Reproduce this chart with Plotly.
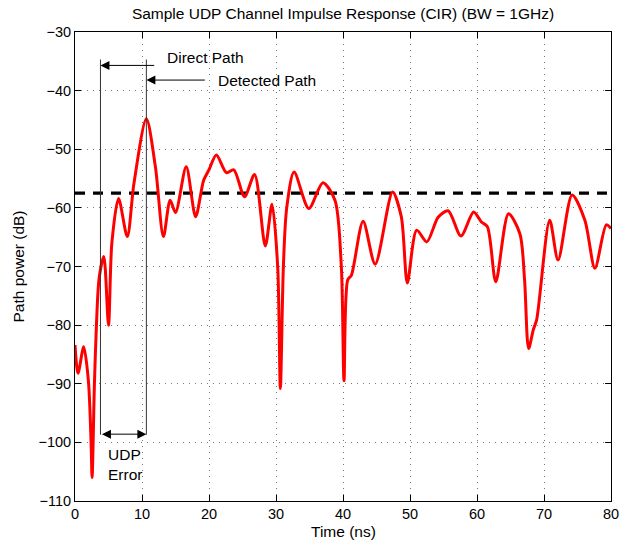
import plotly.graph_objects as go

# ---- data ----
time_ns = [0.0, 0.45, 1.3, 2.0, 2.4, 2.55, 2.9, 3.2, 3.6, 4.3, 5.0, 5.5, 6.5, 7.8, 8.8,
           10.65, 12.0, 13.2, 14.2, 15.0, 16.6, 18.0, 19.2, 20.0, 21.1, 22.6, 23.7,
           25.3, 26.8, 28.4, 29.4, 30.25, 30.65, 31.1, 31.6, 32.7, 34.9, 37.0, 38.8,
           39.75, 40.15, 40.7, 41.25, 43.0, 44.8, 47.4, 48.7, 49.6, 51.0, 52.5, 54.2,
           55.7, 57.6, 59.5, 60.65, 61.55, 62.8, 64.7, 66.4, 67.1, 67.7, 68.4, 68.9,
           70.85, 72.1, 74.2, 76.1, 77.6, 79.3, 80.0]
power_db = [-83.4, -88.2, -83.7, -89.5, -100.0, -106.0, -90.0, -80.0, -72.0, -68.3, -80.0,
            -66.0, -58.4, -64.9, -55.8, -44.8, -53.0, -64.9, -58.7, -60.8, -53.0, -61.5,
            -55.3, -53.5, -51.0, -54.0, -53.5, -58.1, -54.3, -66.5, -59.4, -70.0, -90.8,
            -70.0, -60.0, -53.9, -60.1, -55.7, -58.7, -70.0, -89.5, -72.3, -71.5, -62.3,
            -69.6, -57.3, -61.5, -72.8, -63.8, -65.8, -61.6, -60.5, -64.8, -60.7, -62.4,
            -63.2, -72.6, -61.0, -64.4, -72.3, -84.0, -80.8, -79.1, -62.1, -68.9, -57.8,
            -62.1, -70.3, -62.9, -63.5]
threshold_db = -57.5
direct_path_ns = 3.8
detected_path_ns = 10.65
marker_top_db = -34.7
marker_bottom_db = -98.7
x_ticks = [0, 10, 20, 30, 40, 50, 60, 70, 80]
y_ticks = [-30, -40, -50, -60, -70, -80, -90, -100, -110]

FONT = "Liberation Sans, Arial, sans-serif"
TXT = 15.5
TICK = 14.5
W, H = 621, 544
ML, MR, MT, MB = 75, 10, 32, 43

fig = go.Figure()
fig.add_trace(go.Scatter(x=[0, 80], y=[threshold_db, threshold_db], mode="lines",
                         line=dict(color="black", width=3.2, dash="10px,8px"),
                         hoverinfo="skip"))
fig.add_trace(go.Scatter(x=time_ns, y=power_db, mode="lines",
                         line=dict(color="#ff0000", width=3, shape="spline", smoothing=0.8),
                         hoverinfo="skip"))

# vertical marker lines
for xv in (direct_path_ns, detected_path_ns):
    fig.add_shape(type="line", x0=xv, x1=xv, y0=marker_top_db, y1=marker_bottom_db,
                  xref="x", yref="y", line=dict(color="#333333", width=1))

annos = [
    dict(x=direct_path_ns, y=-35.7, ax=12.05, ay=-35.7),
    dict(x=detected_path_ns, y=-38.2, ax=19.6, ay=-38.2),
]
for a in annos:
    fig.add_annotation(x=a["x"], y=a["y"], ax=a["ax"], ay=a["ay"], xref="x", yref="y",
                       axref="x", ayref="y", text="", showarrow=True, arrowhead=2,
                       arrowsize=1.8, arrowwidth=1, arrowcolor="black")
fig.add_annotation(x=detected_path_ns, y=-98.6, ax=direct_path_ns, ay=-98.6, xref="x",
                   yref="y", axref="x", ayref="y", text="", showarrow=True, arrowhead=2,
                   arrowside="end+start", arrowsize=1.8, arrowwidth=1, arrowcolor="black")

fig.add_annotation(x=13.5, y=-34.3, xref="x", yref="y", text="Direct Path",
                   showarrow=False, xanchor="left", yanchor="middle",
                   font=dict(family=FONT, size=TXT, color="black"))
fig.add_annotation(x=21.0, y=-38.2, xref="x", yref="y", text="Detected Path",
                   showarrow=False, xanchor="left", yanchor="middle",
                   font=dict(family=FONT, size=TXT, color="black"))
fig.add_annotation(x=4.7, y=-100.2, xref="x", yref="y", text="UDP<br>Error",
                   showarrow=False, xanchor="left", yanchor="top", align="left",
                   font=dict(family=FONT, size=TXT, color="black"))

# axis titles as paper-positioned text
pw, ph = W - ML - MR, H - MT - MB
fig.add_annotation(x=0.5, y=-(521 - (H - MB)) / ph, xref="paper", yref="paper",
                   text="Time (ns)", showarrow=False, xanchor="center", yanchor="top",
                   font=dict(family=FONT, size=TXT, color="black"))
fig.add_annotation(x=-(ML - 18) / pw, y=0.5, xref="paper", yref="paper",
                   text="Path power (dB)", showarrow=False, textangle=-90,
                   xanchor="center", yanchor="middle",
                   font=dict(family=FONT, size=TXT, color="black"))

axis_common = dict(showline=True, linecolor="black", linewidth=1, mirror="ticks",
                   ticks="inside", ticklen=6, tickcolor="black", showgrid=True,
                   gridcolor="#777777", griddash="1px,5px", gridwidth=1, zeroline=False,
                   automargin=False,
                   tickfont=dict(family=FONT, size=TICK, color="black"))

fig.update_layout(
    width=W, height=H,
    margin=dict(l=ML, r=MR, t=MT, b=MB),
    paper_bgcolor="white", plot_bgcolor="white",
    showlegend=False,
    title=dict(text="Sample UDP Channel Impulse Response (CIR) (BW = 1GHz)",
               x=(ML + W - MR) / 2 / W, xanchor="center", y=1 - 14 / H, yanchor="middle",
               font=dict(family=FONT, size=TXT, color="black")),
    xaxis=dict(range=[0, 80], tickvals=x_ticks, ticklabelstandoff=0, **axis_common),
    yaxis=dict(range=[-110, -30], tickvals=y_ticks, **axis_common),
)

fig.write_html("out.html")
